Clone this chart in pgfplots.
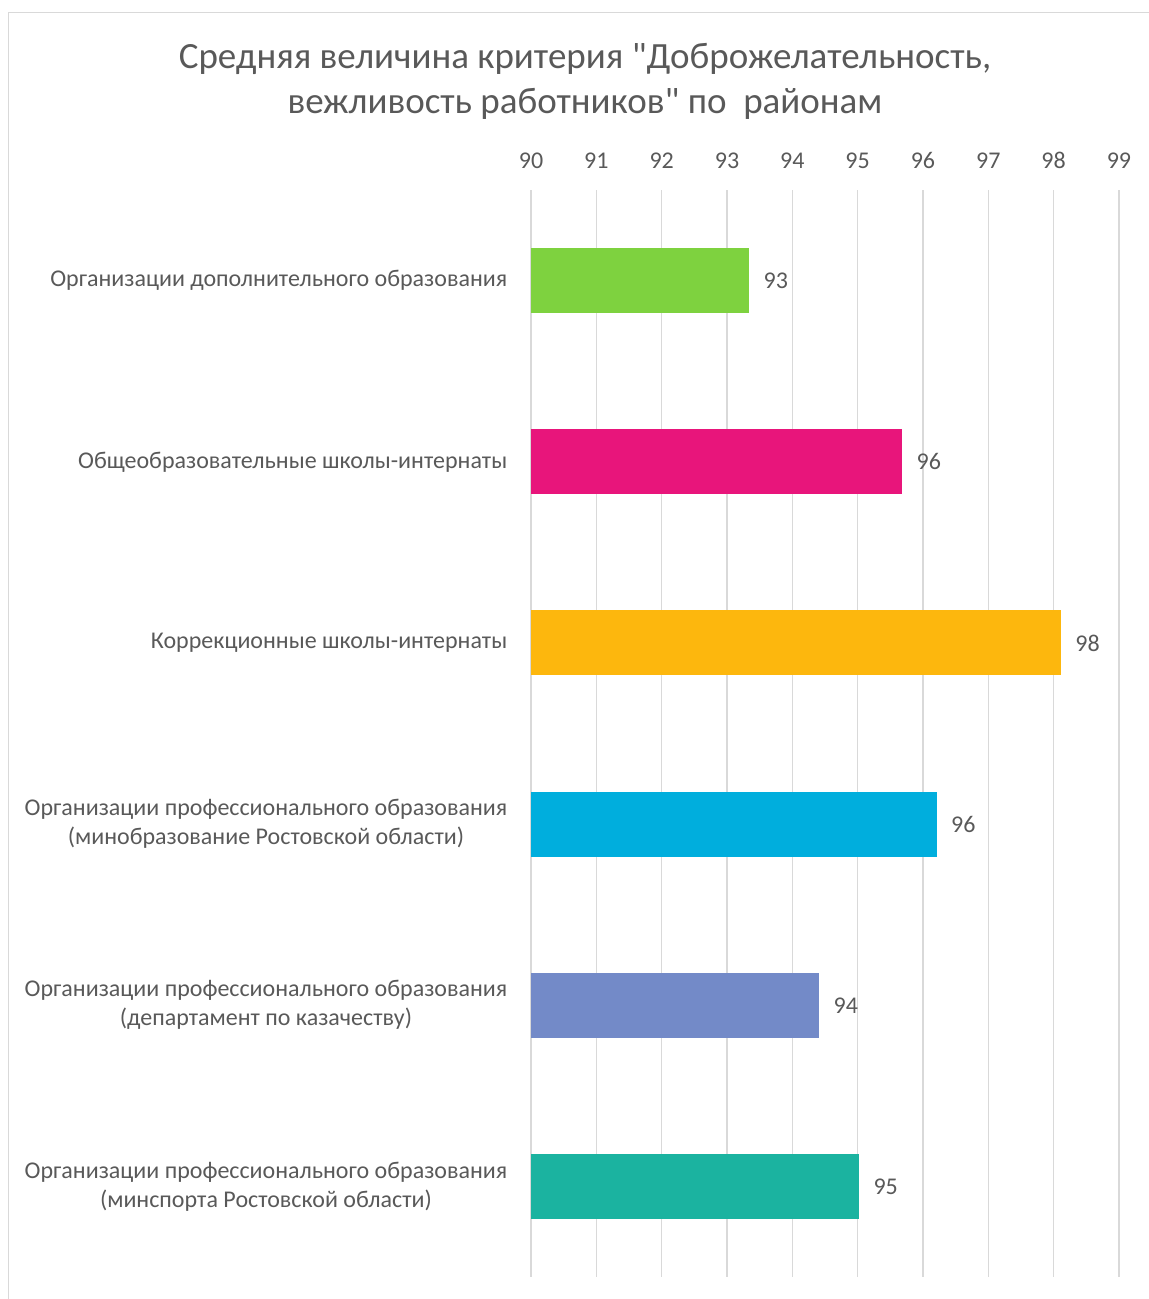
\documentclass[border=0pt]{standalone}
\usepackage{pgfplots}
\pgfplotsset{compat=1.18}
\usepackage{fontspec}
\setmainfont{Carlito}[Ligatures=TeXOff]
\definecolor{txt}{HTML}{595959}
\definecolor{grd}{HTML}{D9D9D9}
\definecolor{c1}{HTML}{7ED23F}
\definecolor{c2}{HTML}{E8157B}
\definecolor{c3}{HTML}{FDB70D}
\definecolor{c4}{HTML}{00AEDD}
\definecolor{c5}{HTML}{738AC8}
\definecolor{c6}{HTML}{1BB3A0}
\begin{document}
\begin{tikzpicture}
\path[use as bounding box] (0,0) rectangle (1149pt,-1299pt);
\draw[grd, line width=1.5pt] (8.5pt,-1299pt) -- (8.5pt,-12.5pt) -- (1149pt,-12.5pt);
\node[text=txt, font=\fontsize{37}{45}\selectfont, align=center] at (585pt,-81pt)
  {Средняя величина критерия "Доброжелательность,\\вежливость работников" по~ районам};
\begin{axis}[
  at={(531pt,-1277pt)}, anchor=south west,
  scale only axis, width=588pt, height=1087pt,
  xmin=90, xmax=99, ymin=0.5, ymax=6.5,
  y dir=reverse,
  xtick={90,91,...,99},
  xticklabel pos=upper,
  xmajorgrids, grid style={grd, line width=1.5pt},
  axis line style={draw=none},
  tick style={draw=none},
  /pgf/number format/assume math mode=true,
  xticklabel style={text=txt, font=\fontsize{24}{28}\selectfont, yshift=18pt},
  ytick={1,2,3,4,5,6},
  yticklabels={
    {Организации дополнительного образования},
    {Общеобразовательные школы-интернаты},
    {Коррекционные школы-интернаты},
    {Организации профессионального образования\\(минобразование Ростовской области)},
    {Организации профессионального образования\\(департамент по казачеству)},
    {Организации профессионального образования\\(минспорта Ростовской области)}},
  yticklabel style={text=txt, font=\fontsize{24}{29}\selectfont, align=center, anchor=east, xshift=-16pt},
  xbar, bar width=65pt, bar shift=0pt,
  nodes near coords,
  nodes near coords style={text=txt, font=\fontsize{24}{28}\selectfont, anchor=west, xshift=11pt,
    /pgf/number format/.cd, fixed, precision=0, assume math mode=true},
]
\addplot[fill=c1, draw=none] coordinates {(93.34,1)};
\addplot[fill=c2, draw=none] coordinates {(95.68,2)};
\addplot[fill=c3, draw=none] coordinates {(98.11,3)};
\addplot[fill=c4, draw=none] coordinates {(96.21,4)};
\addplot[fill=c5, draw=none] coordinates {(94.41,5)};
\addplot[fill=c6, draw=none] coordinates {(95.02,6)};
\end{axis}
\end{tikzpicture}
\end{document}
